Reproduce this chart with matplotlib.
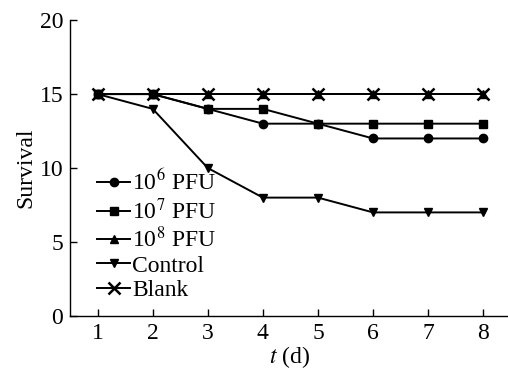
import matplotlib
matplotlib.use('Agg')
import matplotlib.pyplot as plt

# data
days = [1, 2, 3, 4, 5, 6, 7, 8]
pfu_1e6 = [15, 15, 14, 13, 13, 12, 12, 12]
pfu_1e7 = [15, 15, 14, 14, 13, 13, 13, 13]
pfu_1e8 = [15, 15, 15, 15, 15, 15, 15, 15]
control = [15, 14, 10, 8, 8, 7, 7, 7]
blank = [15, 15, 15, 15, 15, 15, 15, 15]

labels = ['10$^{6}$ PFU', '10$^{7}$ PFU', '10$^{8}$ PFU', 'Control', 'Blank']
yticks = [0, 5, 10, 15, 20]

plt.rcParams['font.family'] = ['Liberation Serif', 'DejaVu Serif']
plt.rcParams['mathtext.fontset'] = 'stix'

fig = plt.figure(figsize=(5.08, 3.73), dpi=100)
ax = fig.add_axes([0.138, 0.153, 0.862, 0.793])

style = dict(color='black', lw=1.4, clip_on=False)
ax.plot(days, pfu_1e8, marker='^', ms=6, label=labels[2], zorder=2, **style)
ax.plot(days, blank, marker='x', ms=8, mew=1.8, label=labels[4], zorder=3, **style)
ax.plot(days, control, marker='v', ms=6, label=labels[3], zorder=4, **style)
ax.plot(days, pfu_1e6, marker='o', ms=6, label=labels[0], zorder=5, **style)
ax.plot(days, pfu_1e7, marker='s', ms=6, label=labels[1], zorder=6, **style)

ax.set_xlim(0.5, 8.45)
ax.set_ylim(0, 20)
ax.set_xticks(days)
ax.set_yticks(yticks)
ax.tick_params(direction='in', length=5, width=1, labelsize=17, pad=5)
for side in ('top', 'right'):
    ax.spines[side].set_visible(False)
for side in ('left', 'bottom'):
    ax.spines[side].set_linewidth(1)

ax.set_ylabel('Survival', fontsize=17, labelpad=2)
ax.set_xlabel('$t$ (d)', fontsize=17, labelpad=0)

handles, labs = ax.get_legend_handles_labels()
order = [labs.index(l) for l in labels]
ax.legend([handles[i] for i in order], [labs[i] for i in order],
          loc='upper left', bbox_to_anchor=(0.04, 0.525), frameon=False,
          fontsize=17, handlelength=1.4, handletextpad=0.1,
          labelspacing=0.12, borderaxespad=0)

fig.savefig('out.png', dpi=100)
